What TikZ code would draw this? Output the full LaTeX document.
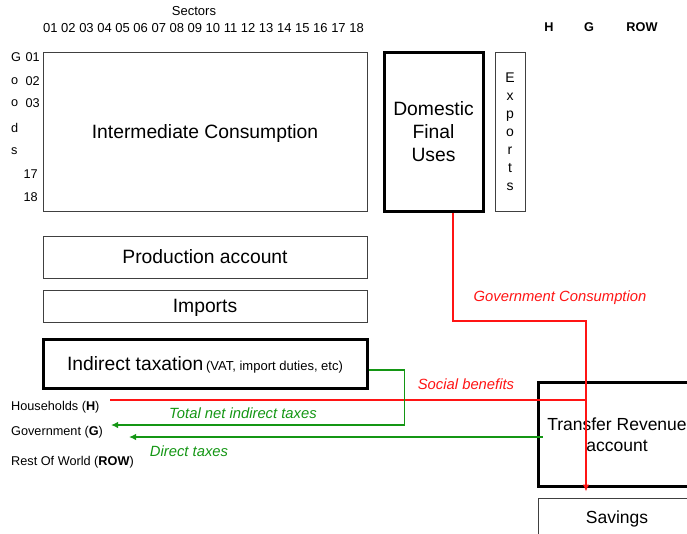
\documentclass[tikz,border=0pt]{standalone}
\usepackage{fontspec}
\setmainfont{Liberation Sans}
\usetikzlibrary{arrows.meta,calc}
\definecolor{myred}{RGB}{255,20,20}
\definecolor{mygreen}{RGB}{20,150,20}
\begin{document}
\begin{tikzpicture}[x=1pt,y=-1pt,
  thinbox/.style={draw=black!75,line width=1pt,inner sep=0pt},
  thickbox/.style={draw=black,line width=3pt,inner sep=0pt},
  big/.style={font=\fontsize{19.3}{23}\selectfont},
  small/.style={font=\fontsize{13}{15}\selectfont},
  lbl/.style={font=\fontsize{12.7}{14}\selectfont,inner sep=0pt},
  redlbl/.style={font=\fontsize{14.8}{17}\selectfont\itshape,text=myred,inner sep=0pt},
  greenlbl/.style={font=\fontsize{14.8}{17}\selectfont\itshape,text=mygreen,inner sep=0pt},
  redline/.style={draw=myred,line width=1.8pt},
  greenline/.style={draw=mygreen,line width=1.8pt},
  tip/.style={-{Latex[length=7pt,width=6.5pt]}}]
\useasboundingbox (0,0) rectangle (687,533);
% header
\node[small,inner sep=0pt] (sectors) at (194,11) {Sectors};
\node[small,inner sep=0pt] (nums) at (203.5,28) {01 02 03 04 05 06 07 08 09 10 11 12 13 14 15 16 17 18};
\node[lbl,font=\fontsize{12.7}{14}\selectfont\bfseries] (hH) at (549,27) {H};
\node[lbl,font=\fontsize{12.7}{14}\selectfont\bfseries] (hG) at (589,27) {G};
\node[lbl,font=\fontsize{12.7}{14}\selectfont\bfseries] (hROW) at (642,27) {ROW};
% row labels
\node[lbl,anchor=west] (lG) at (11,57) {G};
\node[lbl,anchor=west] (lo1) at (11,81) {o};
\node[lbl,anchor=west] (lo2) at (11,103) {o};
\node[lbl,anchor=west] (ld) at (11,128) {d};
\node[lbl,anchor=west] (ls) at (11,151) {s};
\node[lbl,anchor=east] (n01) at (40,57) {01};
\node[lbl,anchor=east] (n02) at (40,81) {02};
\node[lbl,anchor=east] (n03) at (40,103) {03};
\node[lbl,anchor=east] (n17) at (38,174) {17};
\node[lbl,anchor=east] (n18) at (38,197) {18};
% boxes
\node[thinbox,big,text depth=0pt,minimum width=324pt,minimum height=159pt] (IC) at (205,131.5) {Intermediate Consumption};
\node[thickbox,big,minimum width=99pt,minimum height=159pt,align=center] (DFU) at (433.5,131.5) {Domestic\\Final\\Uses};
\node[thinbox,minimum width=30pt,minimum height=159pt] (EXP) at (510,131.5) {};
\node[align=center,font=\fontsize{14}{18}\selectfont] (exptxt) at (510,132) {E\\x\\p\\o\\r\\t\\s};
\node[thinbox,big,minimum width=324pt,minimum height=42pt] (PA) at (205,257) {Production account};
\node[thinbox,big,text depth=0pt,minimum width=324pt,minimum height=32pt] (IMP) at (205,306) {Imports};
\node[thickbox,text depth=0pt,minimum width=324pt,minimum height=49pt] (IT) at (205,363.5) {{\fontsize{19.3}{23}\selectfont Indirect taxation} {\fontsize{13}{15}\selectfont (VAT, import duties, etc)}};
\node[thickbox,minimum width=162pt,minimum height=104pt] (TRA) at (619,434) {};
\node[align=center,font=\fontsize{17.5}{21}\selectfont,inner sep=0pt] (tratxt) at (617,435) {Transfer Revenue\\account};
\node[thinbox,minimum width=162pt,minimum height=38pt] (SAV) at (619,517) {};
\node[font=\fontsize{17.5}{21}\selectfont,inner sep=0pt,text depth=0pt] (savtxt) at (617,517) {Savings};
% sector labels bottom left
\node[lbl,anchor=west] (hh) at (11,407) {Households (\textbf{H})};
\node[lbl,anchor=west] (gov) at (11,432) {Government (\textbf{G})};
\node[lbl,anchor=west] (row) at (11,462) {Rest Of World (\textbf{ROW})};
% coordinates
\coordinate (gc) at (586,321);
\coordinate (hhend) at (110,400);
\coordinate (govend1) at (111,425);
\coordinate (govend2) at (129,437);
% connectors
\draw[redline,tip] ([xshift=19.5pt]DFU.south) |- (gc) -- ($(gc |- SAV.north)+(0,-6)$);
\draw[redline] (gc |- hhend) -- (hhend);
\draw[greenline,tip] ([yshift=-6.5pt]IT.east) -- ++(36,0) |- (govend1);
\draw[greenline,tip] ([xshift=6pt,yshift=-3pt]TRA.west) -- (govend2);
% connector labels
\node[redlbl] (gclbl) at (560,298) {Government Consumption};
\node[redlbl] (sblbl) at (466,384) {Social benefits};
\node[greenlbl] (tnlbl) at (243,413) {Total net indirect taxes};
\node[greenlbl] (dtlbl) at (189,451) {Direct taxes};
\end{tikzpicture}
\end{document}
